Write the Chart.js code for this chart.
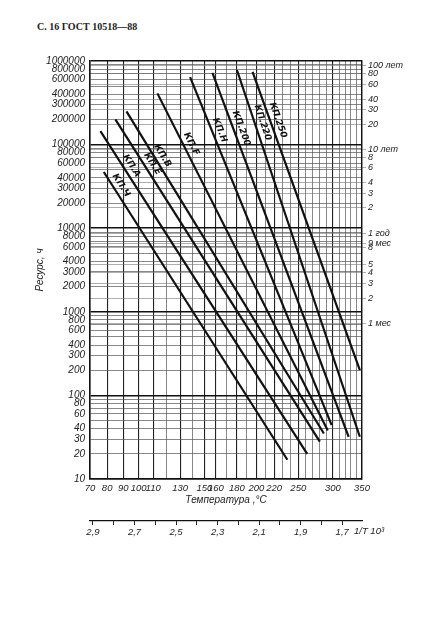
<!DOCTYPE html>
<html>
<head>
<meta charset="utf-8">
<script src="https://cdn.jsdelivr.net/npm/chart.js@4.4.1/dist/chart.umd.min.js"></script>
<style>
html,body{margin:0;padding:0;background:#fff;}
#wrap{position:relative;width:427px;height:633px;overflow:hidden;}
#hdr{position:absolute;left:37px;top:21px;font:bold 10px "Liberation Serif",serif;color:#222;white-space:nowrap;}
canvas{position:absolute;left:0;top:0;}
</style>
</head>
<body>
<div id="wrap">
<div id="hdr">С. 16 ГОСТ 10518—88</div>
<canvas id="c" width="427" height="633"></canvas>
</div>
<script>
// ---- Series: [temperature °C, resource h] (start, end) ----
const seriesNames = ['КП.Ч','КП.А','КП.Е','КП.В','КП.F','КП.Н','КП.200','КП.220','КП.250'];
const kpCh  = [[78, 47000],  [236, 17]];
const kpA   = [[76, 145000], [262, 20]];
const kpE   = [[85, 200000], [280, 28]];
const kpV   = [[92, 250000], [286, 35]];
const kpF   = [[113, 410000],[292, 38]];
const kpN   = [[138, 640000],[298, 44]];
const kp200 = [[157, 720000],[326, 32]];
const kp220 = [[180, 780000],[346, 32]];
const kp250 = [[196, 740000],[346, 200]];
const allSeries = [kpCh, kpA, kpE, kpV, kpF, kpN, kp200, kp220, kp250];

// ---- Tick labels ----
const tempGrid   = [70,80,90,100,110,120,130,140,150,160,170,180,190,200,210,220,230,240,250,260,270,280,290,300,310,320,330,340,350];
const tempLabels = [70,80,90,100,110,130,150,160,180,200,220,250,300,350];
const yLabels    = [10,20,30,40,60,80,100,200,300,400,600,800,1000,2000,3000,4000,6000,8000,
                    10000,20000,30000,40000,60000,80000,100000,200000,300000,400000,600000,800000,1000000];
const rightTickHours  = [876000,700800,525600,350400,262800,175200,87600,70080,52560,35040,26280,17520,8760,6570,5840,3650,2920,2190,1460,730];
const rightTickLabels = ['100 лет','80','60','40','30','20','10 лет','8','6','4','3','2','1 год','9 мес','8','5','4','3','2','1 мес'];
const invTicks   = [2.9,2.8,2.7,2.6,2.5,2.4,2.3,2.2,2.1,2.0,1.9,1.8,1.7];
const invLabels  = ['2,9','','2,7','','2,5','','2,3','','2,1','','1,9','','1,7'];
const invAxisName = '1/T 10³';

// label placement along each line (fraction from start)
const labelAlong = [0.06,0.12,0.15,0.15,0.16,0.16,0.16,0.15,0.17];
const labelGap = 7.5;

const invT = t => 1000 / (t + 273.15);
const xMin = invT(350), xMax = invT(70);

const yGrid = [];
[10,100,1000,10000,100000].forEach(d => { for (let m = 1; m <= 9; m++) yGrid.push(m*d); });
yGrid.push(1000000);

const isDecade = v => Math.abs(Math.log10(v) - Math.round(Math.log10(v))) < 1e-6;

const FONT = '"Liberation Sans", "DejaVu Sans", sans-serif';

const lineLabelPlugin = {
  id: 'lineLabels',
  afterDatasetsDraw(chart) {
    const ctx = chart.ctx;
    chart.data.datasets.forEach((ds, i) => {
      const meta = chart.getDatasetMeta(i);
      const p0 = meta.data[0], p1 = meta.data[meta.data.length - 1];
      const dx = p1.x - p0.x, dy = p1.y - p0.y, len = Math.hypot(dx, dy);
      const f = labelAlong[i];
      const cx = p0.x + dx * f + dy / len * labelGap;
      const cy = p0.y + dy * f - dx / len * labelGap;
      ctx.save();
      ctx.translate(cx, cy);
      ctx.rotate(Math.atan2(dy, dx));
      ctx.font = 'italic bold 9px "DejaVu Sans", sans-serif';
      ctx.fillStyle = '#111';
      ctx.textAlign = 'center';
      ctx.textBaseline = 'middle';
      ctx.fillText(ds.label, 0, 0);
      ctx.restore();
    });
  }
};

// the 1/T axis name sits at the right end of the lower axis, after the last tick label
const invNamePlugin = {
  id: 'invName',
  afterDraw(chart) {
    const sc = chart.scales.x2;
    const ctx = chart.ctx;
    ctx.save();
    ctx.font = 'italic 9.5px ' + FONT;
    ctx.fillStyle = '#222';
    ctx.textAlign = 'left';
    ctx.textBaseline = 'top';
    ctx.fillText(invAxisName, sc.getPixelForValue(xMin) - 8, sc.top + 6);
    ctx.restore();
  }
};

new Chart(document.getElementById('c'), {
  type: 'line',
  data: {
    datasets: allSeries.map((s, i) => ({
      label: seriesNames[i],
      data: s.map(([t, h]) => ({ x: invT(t), y: h })),
      borderColor: '#111',
      borderWidth: 2.2,
      pointRadius: 0,
      tension: 0,
      xAxisID: 'x',
      yAxisID: 'y'
    }))
  },
  options: {
    responsive: false,
    animation: false,
    events: [],
    layout: { padding: { left: 30, right: 0, top: 61, bottom: 94 } },
    plugins: { legend: { display: false }, tooltip: { enabled: false }, title: { display: false } },
    scales: {
      x: {
        type: 'linear', position: 'bottom', reverse: true, min: xMin, max: xMax,
        afterBuildTicks: sc => { sc.ticks = tempGrid.map(t => ({ value: invT(t) })); },
        afterFit: sc => { sc.height = 42; },
        ticks: {
          autoSkip: false, maxRotation: 0, padding: 4, color: '#222',
          font: { family: FONT, size: 9.5, style: 'italic' },
          callback: (v, i) => tempLabels.includes(tempGrid[i]) ? String(tempGrid[i]) : ''
        },
        grid: {
          drawTicks: false,
          color: ctx => (ctx.tick && tempLabels.includes(tempGrid[ctx.index])) ? '#222' : '#555',
          lineWidth: ctx => (ctx.tick && tempLabels.includes(tempGrid[ctx.index])) ? 1.1 : 0.7
        },
        border: { display: true, color: '#111', width: 1.6 },
        title: { display: true, text: 'Температура ,°C', color: '#222',
                 font: { family: FONT, size: 10, style: 'italic' }, padding: { top: 0, bottom: 15 } }
      },
      x2: {
        type: 'linear', position: 'bottom', reverse: true, min: xMin, max: xMax,
        afterBuildTicks: sc => { sc.ticks = invTicks.map(v => ({ value: v })); },
        afterFit: sc => { sc.height = 18; },
        ticks: {
          autoSkip: false, maxRotation: 0, padding: 2, color: '#222',
          font: { family: FONT, size: 9.5, style: 'italic' },
          callback: (v, i) => invLabels[i]
        },
        grid: { drawOnChartArea: false, drawTicks: true, tickLength: 4, color: '#222', lineWidth: 1 },
        border: { display: true, color: '#111', width: 1.2 }
      },
      y: {
        type: 'logarithmic', position: 'left', min: 10, max: 1000000,
        afterBuildTicks: sc => { sc.ticks = yGrid.map(v => ({ value: v })); },
        afterFit: sc => { sc.width = 60; },
        ticks: {
          autoSkip: false, padding: 5, color: '#222',
          font: { family: FONT, size: 10, style: 'italic' },
          callback: v => yLabels.includes(v) ? String(v) : ''
        },
        grid: {
          drawTicks: false,
          color: ctx => (ctx.tick && isDecade(ctx.tick.value)) ? '#111' : '#555',
          lineWidth: ctx => (ctx.tick && isDecade(ctx.tick.value)) ? 1.6 : 0.7
        },
        border: { display: true, color: '#111', width: 1.6 },
        title: { display: true, text: 'Ресурс, ч', color: '#222',
                 font: { family: FONT, size: 10, style: 'italic' }, padding: { top: 4, bottom: 0 } }
      },
      y2: {
        type: 'logarithmic', position: 'right', min: 10, max: 1000000,
        afterBuildTicks: sc => { sc.ticks = rightTickHours.map(v => ({ value: v })); },
        afterFit: sc => { sc.width = 65; },
        ticks: {
          autoSkip: false, padding: 2, color: '#222',
          font: { family: FONT, size: 9, style: 'italic' },
          callback: (v, i) => rightTickLabels[i]
        },
        grid: { drawOnChartArea: true, drawTicks: true, tickLength: 4, color: '#777', lineWidth: 0.6 },
        border: { display: true, color: '#111', width: 1.4 }
      }
    }
  },
  plugins: [lineLabelPlugin, invNamePlugin]
});
</script>
</body>
</html>
